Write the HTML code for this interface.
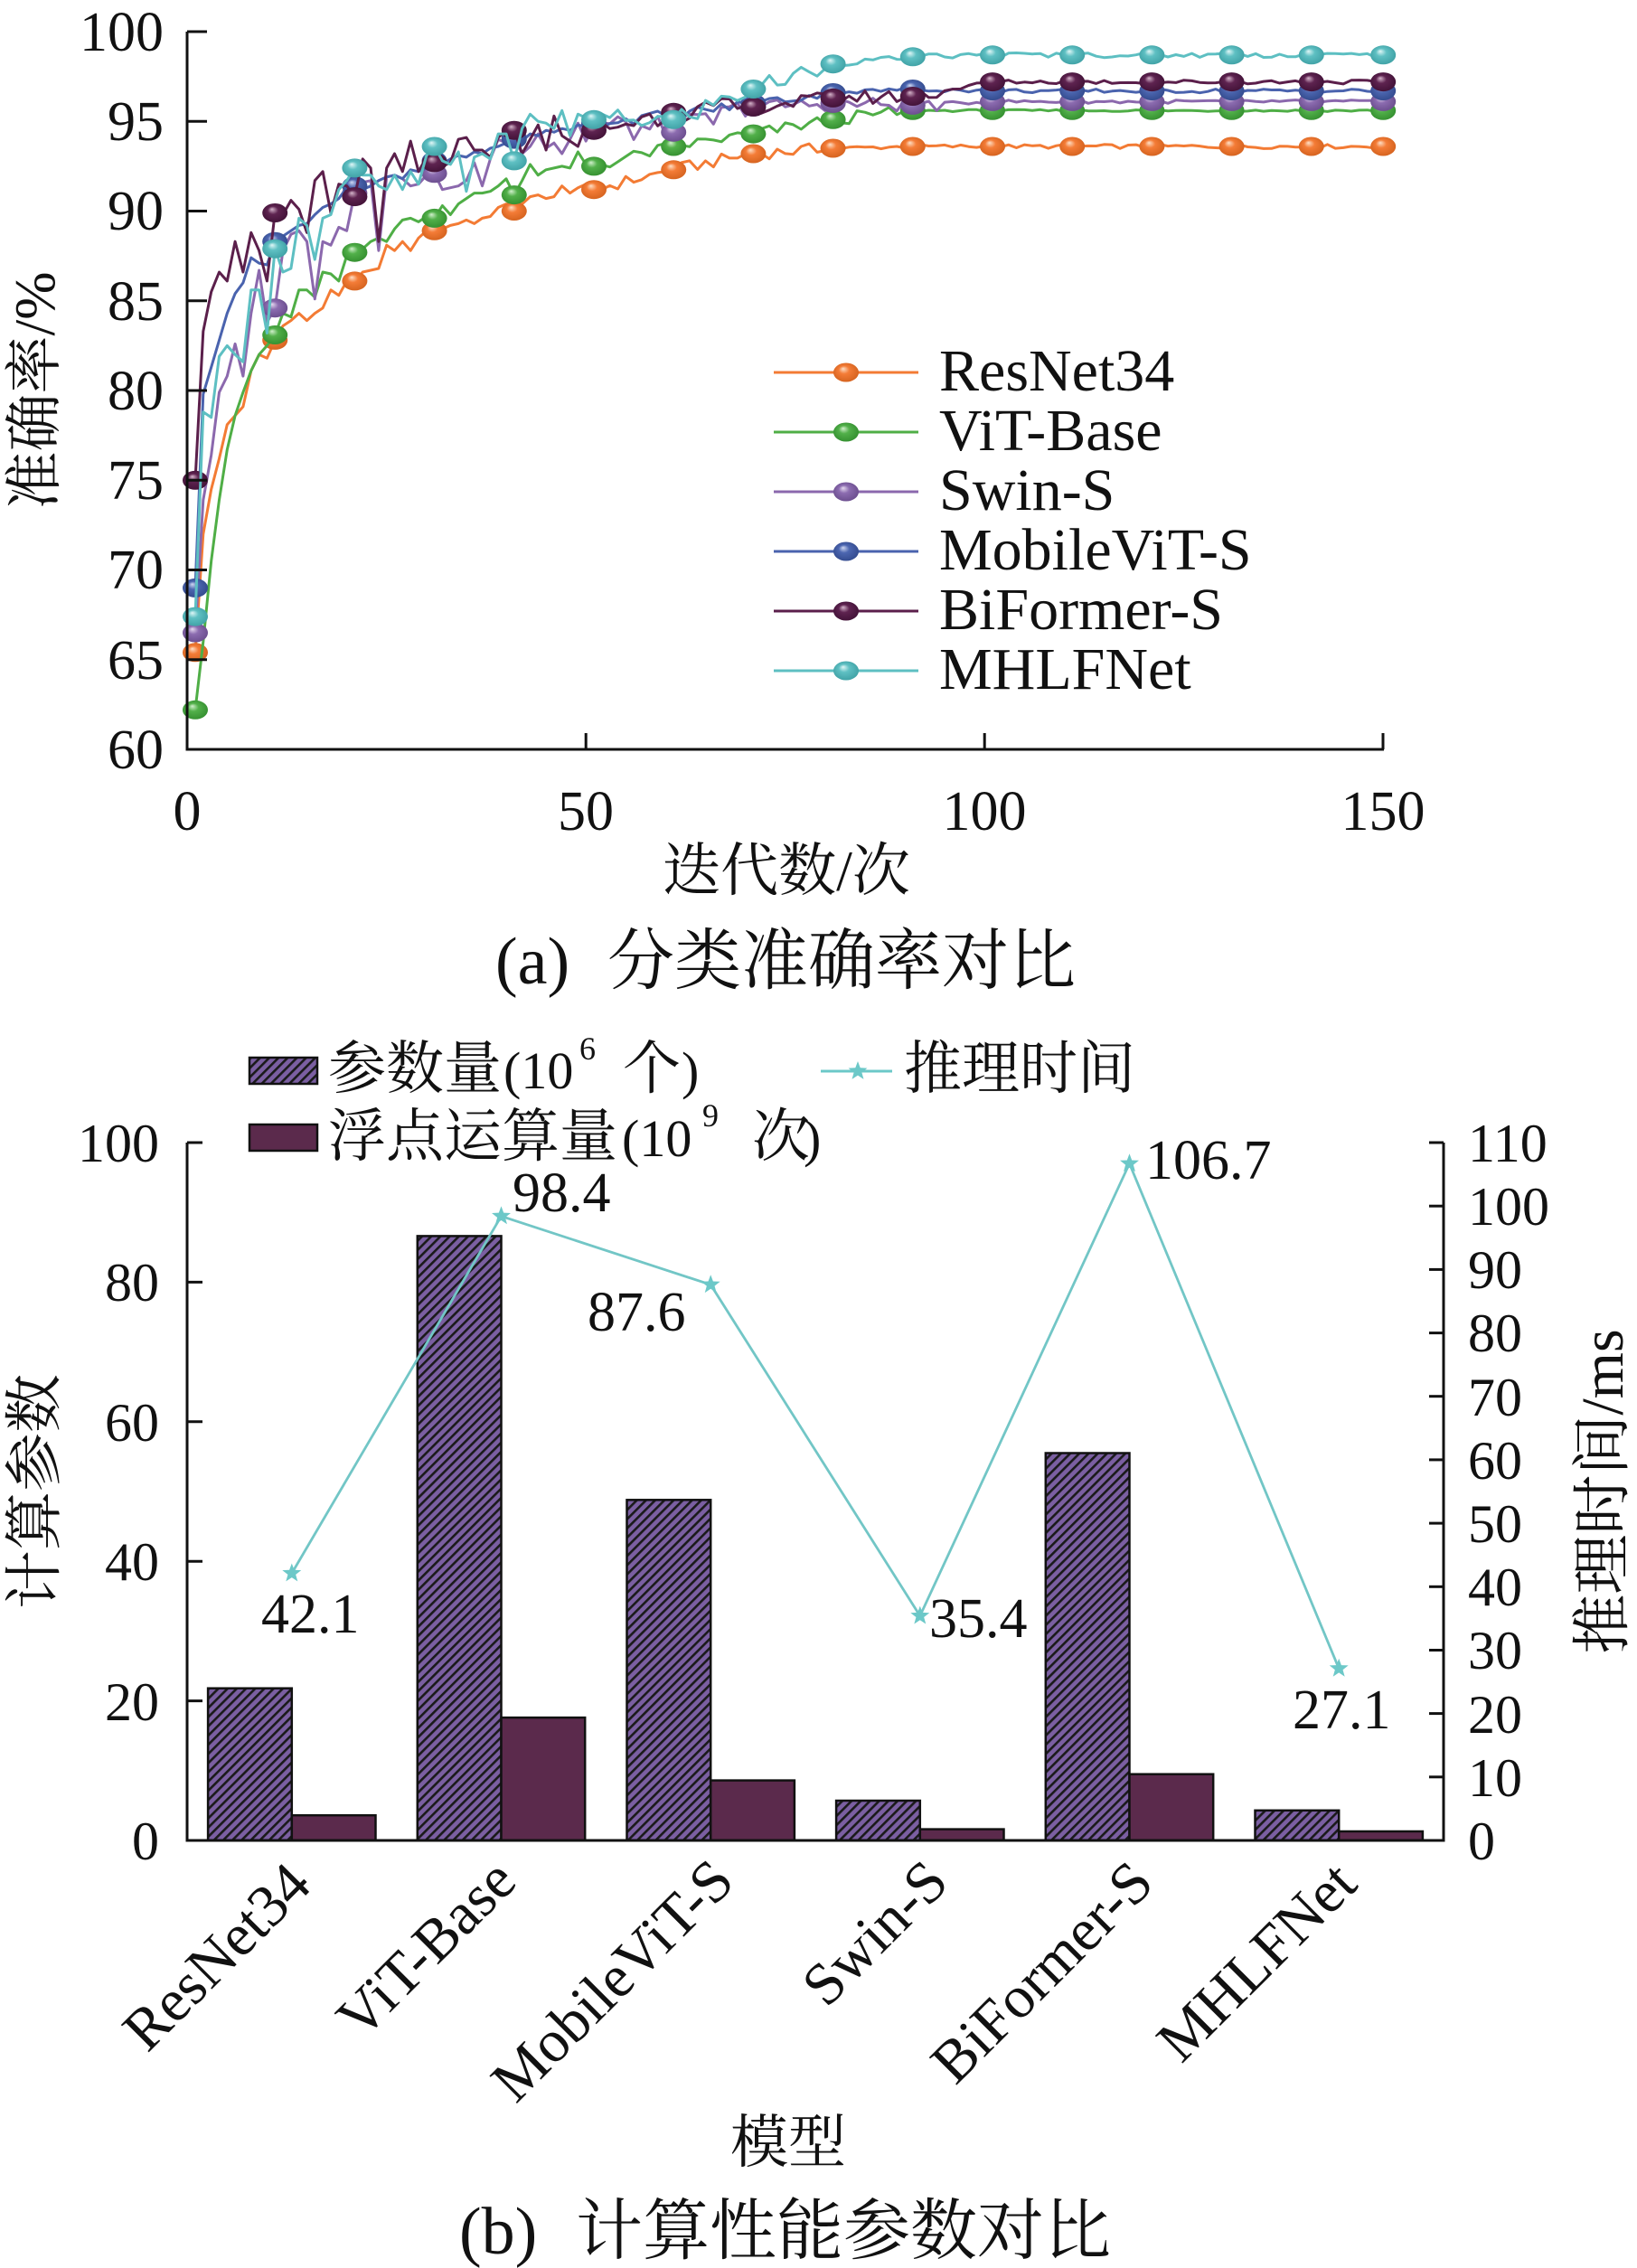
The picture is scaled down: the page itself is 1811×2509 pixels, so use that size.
<!DOCTYPE html>
<html><head><meta charset="utf-8">
<style>
html,body{margin:0;padding:0;background:#fff;}
svg{display:block;}
text{font-family:"Liberation Serif","Noto Serif CJK SC",serif;fill:#111;}
</style></head>
<body>
<svg id="svg" width="1811" height="2509" viewBox="0 0 1811 2509" xmlns="http://www.w3.org/2000/svg">
<defs>
<radialGradient id="gOr" cx="0.5" cy="0.5" r="0.6" fx="0.38" fy="0.3"><stop offset="0" stop-color="#fde0c8"/><stop offset="0.35" stop-color="#f47c37"/><stop offset="1" stop-color="#cf5e1a"/></radialGradient>
<radialGradient id="gGr" cx="0.5" cy="0.5" r="0.6" fx="0.38" fy="0.3"><stop offset="0" stop-color="#d2f0cd"/><stop offset="0.35" stop-color="#52b04a"/><stop offset="1" stop-color="#2f8a2b"/></radialGradient>
<radialGradient id="gPu" cx="0.5" cy="0.5" r="0.6" fx="0.38" fy="0.3"><stop offset="0" stop-color="#e6daf0"/><stop offset="0.35" stop-color="#8c6cb0"/><stop offset="1" stop-color="#654888"/></radialGradient>
<radialGradient id="gBl" cx="0.5" cy="0.5" r="0.6" fx="0.38" fy="0.3"><stop offset="0" stop-color="#cfd8f2"/><stop offset="0.35" stop-color="#4c66b0"/><stop offset="1" stop-color="#2f4688"/></radialGradient>
<radialGradient id="gMa" cx="0.5" cy="0.5" r="0.6" fx="0.38" fy="0.3"><stop offset="0" stop-color="#d6b6cc"/><stop offset="0.35" stop-color="#5e2350"/><stop offset="1" stop-color="#3d0f33"/></radialGradient>
<radialGradient id="gCy" cx="0.5" cy="0.5" r="0.6" fx="0.38" fy="0.3"><stop offset="0" stop-color="#e2f7f7"/><stop offset="0.35" stop-color="#5fc0c3"/><stop offset="1" stop-color="#3a9ca0"/></radialGradient>
<pattern id="hatch" patternUnits="userSpaceOnUse" width="10" height="7.2" patternTransform="rotate(-45)">
<rect x="0" y="0" width="10" height="7.2" fill="#7b5fa2"/>
<rect x="0" y="0" width="10" height="2.6" fill="#1a1a1a"/>
</pattern>
<g id="star"><polygon points="0,-11 2.7,-3.72 10.46,-3.4 4.37,1.42 6.47,8.9 0,4.6 -6.47,8.9 -4.37,1.42 -10.46,-3.4 -2.7,-3.72" fill="#6cc8c8"/></g>
</defs>

<!-- ================= Chart (a) ================= -->
<g id="series"></g>

<!-- axes a -->
<path d="M207,35 V829 H1531" fill="none" stroke="#111" stroke-width="3"/>
<g stroke="#111" stroke-width="3">
<line x1="207" y1="35" x2="229" y2="35"/>
<line x1="207" y1="134.25" x2="229" y2="134.25"/>
<line x1="207" y1="233.5" x2="229" y2="233.5"/>
<line x1="207" y1="332.75" x2="229" y2="332.75"/>
<line x1="207" y1="432" x2="229" y2="432"/>
<line x1="207" y1="531.25" x2="229" y2="531.25"/>
<line x1="207" y1="630.5" x2="229" y2="630.5"/>
<line x1="207" y1="729.75" x2="229" y2="729.75"/>
<line x1="648.2" y1="829" x2="648.2" y2="811"/>
<line x1="1089.2" y1="829" x2="1089.2" y2="811"/>
<line x1="1530" y1="829" x2="1530" y2="811"/>
</g>
<g font-size="62" text-anchor="end">
<text x="181" y="56">100</text>
<text x="181" y="155">95</text>
<text x="181" y="254">90</text>
<text x="181" y="354">85</text>
<text x="181" y="453">80</text>
<text x="181" y="552">75</text>
<text x="181" y="651">70</text>
<text x="181" y="751">65</text>
<text x="181" y="850">60</text>
</g>
<g font-size="62" text-anchor="middle">
<text x="207" y="918">0</text>
<text x="648" y="918">50</text>
<text x="1089" y="918">100</text>
<text x="1530" y="918">150</text>
</g>
<text x="870" y="985" font-size="64" text-anchor="middle">迭代数/次</text>
<text transform="translate(60,432) rotate(-90)" font-size="64" text-anchor="middle">准确率/%</text>

<!-- legend a -->
<g id="legA"></g>
<g font-size="66">
<text x="1039" y="432">ResNet34</text>
<text x="1039" y="498">ViT-Base</text>
<text x="1039" y="564">Swin-S</text>
<text x="1039" y="630">MobileViT-S</text>
<text x="1039" y="696">BiFormer-S</text>
<text x="1039" y="762">MHLFNet</text>
</g>

<text x="548" y="1088" font-size="74">(a)</text>
<text x="672" y="1088" font-size="74">分类准确率对比</text>

<!-- ================= Chart (b) ================= -->
<!-- legend b -->
<rect x="276" y="1170" width="75" height="29" fill="url(#hatch)" stroke="#111" stroke-width="2.5"/>
<rect x="276" y="1244" width="75" height="29" fill="#5b2a4c" stroke="#111" stroke-width="2.5"/>
<text x="363" y="1204" font-size="64">参数量</text>
<text x="557" y="1204" font-size="58">(10</text>
<text x="641" y="1172" font-size="36">6</text>
<text x="689" y="1204" font-size="64">个</text>
<text x="754" y="1204" font-size="58">)</text>
<text x="363" y="1279" font-size="64">浮点运算量</text>
<text x="688" y="1279" font-size="58">(10</text>
<text x="777" y="1246" font-size="36">9</text>
<text x="832" y="1279" font-size="64">次</text>
<text x="889" y="1279" font-size="58">)</text>
<line x1="908" y1="1185" x2="987" y2="1185" stroke="#6cc8c8" stroke-width="3"/>
<use href="#star" transform="translate(949,1185)"/>
<text x="1000" y="1204" font-size="64">推理时间</text>

<!-- bars -->
<g stroke="#111" stroke-width="2.5">
<rect x="230.1" y="1867.7" width="92.7" height="168.3" fill="url(#hatch)"/>
<rect x="322.8" y="2008.2" width="92.7" height="27.8" fill="#5b2a4c"/>
<rect x="461.8" y="1367.4" width="92.7" height="668.6" fill="url(#hatch)"/>
<rect x="554.5" y="1900.1" width="92.7" height="135.9" fill="#5b2a4c"/>
<rect x="693.5" y="1659.3" width="92.7" height="376.7" fill="url(#hatch)"/>
<rect x="786.2" y="1969.6" width="92.7" height="66.4" fill="#5b2a4c"/>
<rect x="925.1" y="1992" width="92.7" height="44" fill="url(#hatch)"/>
<rect x="1017.8" y="2023.6" width="92.7" height="12.4" fill="#5b2a4c"/>
<rect x="1156.8" y="1607.5" width="92.7" height="428.5" fill="url(#hatch)"/>
<rect x="1249.5" y="1962.7" width="92.7" height="73.3" fill="#5b2a4c"/>
<rect x="1388.5" y="2002.8" width="92.7" height="33.2" fill="url(#hatch)"/>
<rect x="1481.2" y="2026" width="92.7" height="10" fill="#5b2a4c"/>
</g>

<!-- line -->
<polyline points="322.8,1740.5 554.5,1345.4 786.2,1421.2 1017.8,1787.6 1249.5,1287.2 1481.2,1845.8" fill="none" stroke="#72c6c6" stroke-width="2.8"/>
<use href="#star" transform="translate(322.8,1740.5)"/>
<use href="#star" transform="translate(554.5,1345.4)"/>
<use href="#star" transform="translate(786.2,1421.2)"/>
<use href="#star" transform="translate(1017.8,1787.6)"/>
<use href="#star" transform="translate(1249.5,1287.2)"/>
<use href="#star" transform="translate(1481.2,1845.8)"/>

<g font-size="62">
<text x="289" y="1806">42.1</text>
<text x="567" y="1340">98.4</text>
<text x="650" y="1472">87.6</text>
<text x="1028" y="1811">35.4</text>
<text x="1267" y="1304">106.7</text>
<text x="1430" y="1912">27.1</text>
</g>

<!-- axes b -->
<path d="M207,1264 V2036 H1597 V1264" fill="none" stroke="#111" stroke-width="3"/>
<g stroke="#111" stroke-width="3">
<line x1="207" y1="1264" x2="224" y2="1264"/>
<line x1="207" y1="1418.4" x2="224" y2="1418.4"/>
<line x1="207" y1="1572.8" x2="224" y2="1572.8"/>
<line x1="207" y1="1727.2" x2="224" y2="1727.2"/>
<line x1="207" y1="1881.6" x2="224" y2="1881.6"/>
<line x1="1597" y1="1264" x2="1581" y2="1264"/>
<line x1="1597" y1="1334.2" x2="1581" y2="1334.2"/>
<line x1="1597" y1="1404.4" x2="1581" y2="1404.4"/>
<line x1="1597" y1="1474.6" x2="1581" y2="1474.6"/>
<line x1="1597" y1="1544.7" x2="1581" y2="1544.7"/>
<line x1="1597" y1="1614.9" x2="1581" y2="1614.9"/>
<line x1="1597" y1="1685.1" x2="1581" y2="1685.1"/>
<line x1="1597" y1="1755.3" x2="1581" y2="1755.3"/>
<line x1="1597" y1="1825.5" x2="1581" y2="1825.5"/>
<line x1="1597" y1="1895.6" x2="1581" y2="1895.6"/>
<line x1="1597" y1="1965.8" x2="1581" y2="1965.8"/>
</g>
<g font-size="60" text-anchor="end">
<text x="176" y="1285">100</text>
<text x="176" y="1439">80</text>
<text x="176" y="1594">60</text>
<text x="176" y="1748">40</text>
<text x="176" y="1903">20</text>
<text x="176" y="2057">0</text>
</g>
<g font-size="60">
<text x="1624" y="1285">110</text>
<text x="1624" y="1355">100</text>
<text x="1624" y="1425">90</text>
<text x="1624" y="1495">80</text>
<text x="1624" y="1566">70</text>
<text x="1624" y="1636">60</text>
<text x="1624" y="1706">50</text>
<text x="1624" y="1776">40</text>
<text x="1624" y="1846">30</text>
<text x="1624" y="1917">20</text>
<text x="1624" y="1987">10</text>
<text x="1624" y="2057">0</text>
</g>
<text transform="translate(60,1650) rotate(-90)" font-size="65" text-anchor="middle">计算参数</text>
<text transform="translate(1795,1650) rotate(-90)" font-size="66" text-anchor="middle">推理时间/ms</text>

<g font-size="66" text-anchor="end">
<text transform="translate(347,2088) rotate(-45)">ResNet34</text>
<text transform="translate(574,2084) rotate(-45)">ViT-Base</text>
<text transform="translate(815,2084) rotate(-45)">MobileViT-S</text>
<text transform="translate(1052,2085) rotate(-45)">Swin-S</text>
<text transform="translate(1279,2086) rotate(-45)">BiFormer-S</text>
<text transform="translate(1504,2087) rotate(-45)">MHLFNet</text>
</g>
<text x="872" y="2392" font-size="64" text-anchor="middle">模型</text>
<text x="508" y="2493" font-size="74">(b)</text>
<text x="637" y="2493" font-size="74">计算性能参数对比</text>
</svg>

<script>
(function(){
const X=e=>207.2+8.82*e;
const Y=v=>829-(v-60)*19.85;
const ME=[1,11,21,31,41,51,61,71,81,91,101,111,121,131,141,150];
function nz(e,s){let x=Math.sin(e*12.9898+s*78.233)*43758.5453;return (x-Math.floor(x))*2-1;}
function base(mk,e){for(let i=0;i<ME.length-1;i++){if(e>=ME[i]&&e<=ME[i+1]){const t=(e-ME[i])/(ME[i+1]-ME[i]);return mk[i]+(mk[i+1]-mk[i])*t;}}return mk[mk.length-1];}
const S=[
{c:'#f37b34',g:'gOr',
early:[65.4,72.0,74.5,76.2,78.1,78.6,79.1,81.1,82.0,81.8,82.8,83.6,83.9,84.3,83.9,84.3,84.6,85.6,85.3,86.1,86.1,86.6,86.7,86.8,88.1,87.8,88.3,87.8,88.5,88.9,88.9,89.0,89.2,89.3,89.5,89.3,89.6,89.7,90.2,90.4,90.0,90.4,90.8,90.9,90.7,90.8,91.4,91.0,91.3,91.5,91.2],
mk:[65.4,82.8,86.1,88.9,90.0,91.2,92.3,93.2,93.5,93.6,93.6,93.6,93.6,93.6,93.6,93.6],
amp:e=>e<80?0.35:0.12},
{c:'#4fae46',g:'gGr',
early:[62.2,66.0,70.5,73.9,76.7,78.6,79.9,81.1,82.0,82.5,83.1,84.3,84.1,85.6,85.6,85.2,86.6,86.5,86.1,87.5,87.7,87.9,88.3,88.5,88.3,89.0,89.5,89.6,89.4,89.7,89.6,90.3,89.8,90.4,90.7,91.0,91.0,91.1,91.4,91.8,90.9,91.7,92.6,92.0,92.3,92.4,92.5,92.4,93.3,92.6,92.5],
mk:[62.2,83.1,87.7,89.6,90.9,92.5,93.6,94.3,95.1,95.6,95.6,95.6,95.6,95.6,95.6,95.6],
amp:e=>e<90?0.35:0.06},
{c:'#8b68ad',g:'gPu',
early:[66.5,73.9,76.4,79.9,80.8,82.6,80.8,84.3,86.7,83.8,84.6,87.8,88.7,88.9,88.3,85.1,88.3,88.1,89.1,88.9,91.0,91.6,91.7,87.8,91.9,92.0,91.8,91.4,91.5,92.0,92.1,91.2,91.3,91.4,91.7,92.7,91.4,92.9,94.0,93.8,94.1,93.2,93.6,94.3,93.5,93.8,93.2,94.0,94.9,93.9,94.8],
mk:[66.5,84.6,91.0,92.1,94.1,94.8,94.4,95.8,96.0,95.9,96.1,96.1,96.1,96.1,96.1,96.1],
amp:e=>e<70?0.8:(e<95?0.4:0.1)},
{c:'#4a63ae',g:'gBl',
early:[69.0,79.8,81.3,82.8,84.3,85.4,86.0,87.4,87.1,87.0,88.3,88.6,88.9,89.2,89.3,89.8,90.2,90.4,90.7,91.3,91.4,91.2,91.4,91.7,91.9,92.0,91.8,92.3,92.2,92.4,92.8,92.6,92.9,93.1,93.0,93.3,93.2,93.5,93.6,93.8,94.0,93.9,94.3,94.2,94.5,94.4,94.6,94.5,94.8,94.7,94.9],
mk:[69.0,88.3,91.4,92.8,94.0,94.9,95.4,96.0,96.6,96.8,96.7,96.7,96.7,96.7,96.7,96.7],
amp:e=>e<80?0.3:0.12},
{c:'#5b1f4b',g:'gMa',
early:[75.0,83.3,85.5,86.6,86.1,88.3,86.6,88.8,87.8,86.1,89.9,89.8,90.6,90.1,88.8,91.7,92.2,89.9,91.5,91.4,90.8,92.9,92.4,88.3,92.4,93.2,92.2,93.9,92.2,93.0,92.7,92.5,92.7,94.0,94.1,93.4,93.4,93.0,94.1,94.5,94.5,93.2,94.0,94.8,93.4,95.3,94.2,93.9,93.6,94.8,94.5],
mk:[75.0,89.9,90.8,92.7,94.5,94.5,95.5,95.8,96.3,96.4,97.2,97.2,97.2,97.2,97.2,97.2],
amp:e=>e<70?0.6:(e<95?0.4:0.12)},
{c:'#5dbfc2',g:'gCy',
early:[67.4,78.8,78.5,81.9,82.5,82.0,81.6,85.6,85.6,83.2,87.9,86.6,86.8,89.6,89.2,87.3,89.6,89.8,91.2,91.7,92.4,92.0,92.0,91.4,91.2,92.0,91.2,92.2,91.5,93.1,93.6,92.8,92.6,93.3,91.1,93.0,93.2,92.9,94.3,94.3,92.8,94.6,95.4,95.0,94.9,94.6,95.6,94.2,95.4,95.2,95.1],
mk:[67.4,87.9,92.4,93.6,92.8,95.1,95.1,96.8,98.2,98.6,98.7,98.7,98.7,98.7,98.7,98.7],
amp:e=>e<80?0.6:0.15}
];
let out='';
S.forEach((s,si)=>{
  const vals=[];
  for(let e=1;e<=150;e++){
    let v;
    if(e<=51) v=s.early[e-1];
    else { v=base(s.mk,e); if(ME.indexOf(e)<0) v+=s.amp(e)*nz(e,si+1); }
    vals.push(v);
  }
  let d='M'+X(1).toFixed(1)+','+Y(vals[0]).toFixed(1);
  for(let e=2;e<=150;e++) d+=' L'+X(e).toFixed(1)+','+Y(vals[e-1]).toFixed(1);
  out+='<path d="'+d+'" fill="none" stroke="'+s.c+'" stroke-width="3" stroke-linejoin="round"/>';
  ME.forEach(e=>{
    out+='<ellipse cx="'+X(e).toFixed(1)+'" cy="'+Y(vals[e-1]).toFixed(1)+'" rx="14" ry="10.5" fill="url(#'+s.g+')"/>';
  });
});
document.getElementById('series').innerHTML=out;
const rows=[412,478,544,610,676,742];
let lg='';
S.forEach((s,i)=>{
  lg+='<line x1="856" y1="'+rows[i]+'" x2="1016" y2="'+rows[i]+'" stroke="'+s.c+'" stroke-width="3"/>';
  lg+='<ellipse cx="936" cy="'+rows[i]+'" rx="14" ry="10.5" fill="url(#'+s.g+')"/>';
});
document.getElementById('legA').innerHTML=lg;
})();
</script>
</body></html>
